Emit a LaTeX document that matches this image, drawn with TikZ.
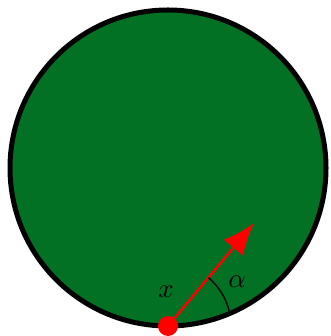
\documentclass[tikz,border=0pt]{standalone}
\usepackage{xcolor}
\usepackage{graphicx}
\usepackage{tikz}
\usetikzlibrary{arrows.meta,positioning,calc}
\definecolor{fieldgreen}{RGB}{3,113,36}
\newcommand{\biglabel}[1]{\scalebox{2.7}{$#1$}}

\begin{document}
\begin{tikzpicture}[
  x=1pt,y=1pt,
  tag/.style={inner sep=0pt},
  disc/.style={circle,draw=black,fill=fieldgreen,line width=5pt,minimum size=316pt,inner sep=0pt},
  spot/.style={circle,fill=red,minimum size=20pt,inner sep=0pt},
  arrow/.style={-{Latex[length=32pt,width=25pt]},red,line width=2.5pt}
]
\useasboundingbox (0,0) rectangle (330,336);
\node[disc] (field) at (168,168) {};
\node[spot] (start) at (168,10) {};
\coordinate (tip) at (254,113);
\draw[arrow] (start) -- (tip);
\draw[line width=1.4pt] ($(start.center)+(50:63)$) arc[start angle=50,end angle=14,radius=63];
\node[tag] (xlabel) at (166,44) {\biglabel{x}};
\node[tag] (alabel) at (237,54) {\biglabel{\alpha}};
\end{tikzpicture}
\end{document}
